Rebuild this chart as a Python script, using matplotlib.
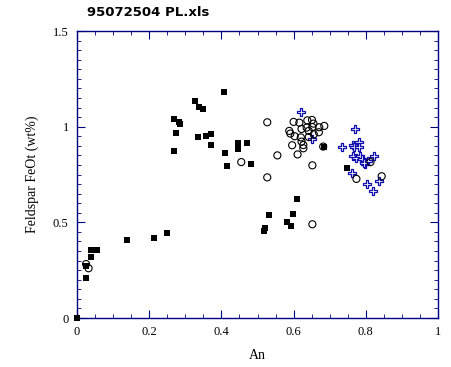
import matplotlib.pyplot as plt
from matplotlib.ticker import MultipleLocator

# filled squares
sq_an = [0.0, 0.025, 0.025, 0.040, 0.040, 0.054, 0.139, 0.214, 0.250,
         0.270, 0.282, 0.284, 0.275, 0.270, 0.328, 0.339, 0.350, 0.408,
         0.336, 0.358, 0.372, 0.372, 0.411, 0.416, 0.447, 0.447, 0.472,
         0.483, 0.531, 0.522, 0.519, 0.610, 0.599, 0.581, 0.594, 0.685, 0.749]
sq_feo = [0.0, 0.207, 0.273, 0.317, 0.354, 0.354, 0.406, 0.417, 0.443,
          1.039, 1.023, 1.012, 0.965, 0.871, 1.133, 1.101, 1.091, 1.180,
          0.945, 0.950, 0.960, 0.903, 0.861, 0.793, 0.913, 0.882, 0.913,
          0.803, 0.537, 0.469, 0.455, 0.620, 0.542, 0.502, 0.479, 0.892, 0.783]

# open circles
ci_an = [0.025, 0.032, 0.455, 0.527, 0.527, 0.555, 0.652, 0.652, 0.774,
         0.844, 0.813, 0.611, 0.596, 0.627, 0.588, 0.591, 0.603, 0.600,
         0.616, 0.622, 0.620, 0.622, 0.627, 0.638, 0.651, 0.655, 0.652,
         0.636, 0.642, 0.671, 0.685, 0.670, 0.656, 0.642, 0.682]
ci_feo = [0.282, 0.260, 0.815, 1.023, 0.735, 0.850, 0.798, 0.490, 0.727,
          0.741, 0.815, 0.855, 0.903, 0.887, 0.978, 0.964, 0.950, 1.025,
          1.021, 0.988, 0.944, 0.922, 0.904, 1.033, 1.035, 1.016, 0.998,
          0.995, 0.978, 0.997, 1.004, 0.971, 0.960, 0.946, 0.896]

# blue crosses
cr_an = [0.621, 0.652, 0.770, 0.734, 0.764, 0.767, 0.782, 0.782, 0.765,
         0.773, 0.784, 0.789, 0.796, 0.799, 0.824, 0.763, 0.802, 0.837,
         0.819, 0.806, 0.795]
cr_feo = [1.079, 0.934, 0.986, 0.892, 0.904, 0.894, 0.918, 0.896, 0.849,
          0.835, 0.845, 0.831, 0.817, 0.805, 0.845, 0.756, 0.699, 0.714,
          0.662, 0.819, 0.812]

navy = '#000080'
serif = 'Liberation Serif'

fig = plt.figure(figsize=(4.52, 3.67), dpi=100)
ax = fig.add_axes([0.1704, 0.1335, 0.7986, 0.782])

ax.scatter(cr_an, cr_feo, marker='P', s=30, facecolors='white',
           edgecolors='#1010b0', linewidths=0.9, zorder=3)
ax.scatter(ci_an, ci_feo, marker='o', s=26, facecolors='none',
           edgecolors='black', linewidths=0.8, zorder=4)
ax.scatter(sq_an, sq_feo, marker='s', s=20, color='black', linewidths=0,
           zorder=5, clip_on=False)

ax.set_xlim(0, 1)
ax.set_ylim(0, 1.5)
ax.xaxis.set_major_locator(MultipleLocator(0.2))
ax.xaxis.set_minor_locator(MultipleLocator(0.05))
ax.yaxis.set_major_locator(MultipleLocator(0.5))
ax.yaxis.set_minor_locator(MultipleLocator(0.05))

ax.tick_params(which='both', direction='in', top=True, right=True,
               color=navy, labelsize=9, pad=6)
ax.tick_params(which='major', length=6)
ax.tick_params(which='minor', length=3)
for s in ax.spines.values():
    s.set_color(navy)
    s.set_linewidth(1.0)

ax.xaxis.set_major_formatter(plt.FuncFormatter(lambda v, p: f'{v:g}'))
ax.yaxis.set_major_formatter(plt.FuncFormatter(lambda v, p: f'{v:g}'))
for lab in ax.get_xticklabels() + ax.get_yticklabels():
    lab.set_fontfamily(serif)

ax.set_xlabel('An', fontfamily=serif, fontsize=10, labelpad=8)
ax.set_ylabel('Feldspar FeOt (wt%)', fontfamily=serif, fontsize=10, labelpad=10)

fig.text(0.192, 0.965, '95072504 PL.xls', fontsize=9.5, fontweight='bold',
         va='center', ha='left')

fig.savefig('out.png', dpi=100)
